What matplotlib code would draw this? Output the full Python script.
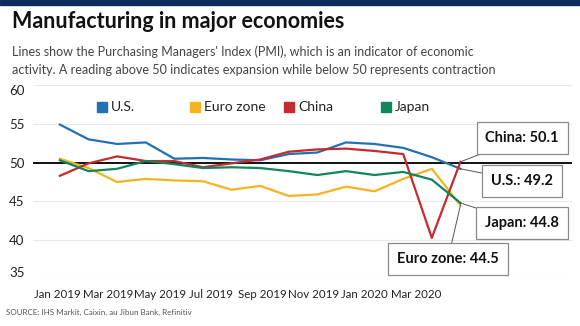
import matplotlib
matplotlib.use('Agg')

import matplotlib.pyplot as plt
import numpy as np

# monthly PMI readings, Jan 2019 .. Mar 2020
months = ['Jan 2019', 'Feb 2019', 'Mar 2019', 'Apr 2019', 'May 2019', 'Jun 2019',
          'Jul 2019', 'Aug 2019', 'Sep 2019', 'Oct 2019', 'Nov 2019', 'Dec 2019',
          'Jan 2020', 'Feb 2020', 'Mar 2020']
us = [54.9, 53.0, 52.4, 52.6, 50.5, 50.6, 50.4, 50.3, 51.1, 51.3, 52.6, 52.4, 51.9, 50.7, 49.2]
euro = [50.5, 49.3, 47.5, 47.9, 47.7, 47.6, 46.5, 47.0, 45.7, 45.9, 46.9, 46.3, 47.9, 49.2, 44.5]
china = [48.3, 49.9, 50.8, 50.2, 50.2, 49.4, 49.9, 50.4, 51.4, 51.7, 51.8, 51.5, 51.1, 40.3, 50.1]
japan = [50.3, 48.9, 49.2, 50.2, 49.8, 49.3, 49.4, 49.3, 48.9, 48.4, 48.9, 48.4, 48.8, 47.8, 44.8]

tick_labels = ['Jan 2019', 'Mar 2019', 'May 2019', 'Jul 2019',
               'Sep 2019', 'Nov 2019', 'Jan 2020', 'Mar 2020']
y_ticks = [35, 40, 45, 50, 55, 60]

series = [
    ('U.S.', us, '#2271b3'),
    ('Euro zone', euro, '#f4b41f'),
    ('China', china, '#c62a2f'),
    ('Japan', japan, '#12855a'),
]

plt.rcParams['font.family'] = ['Lato', 'DejaVu Sans']

W, H = 580, 326
fig = plt.figure(figsize=(W / 100, H / 100), dpi=100)

# navy strip along the top edge
fig.patches.append(plt.Rectangle((0, 1 - 5 / H), 1, 5 / H, transform=fig.transFigure,
                                 color='#0e2a5e', zorder=0))

fig.text(12 / W, 1 - 22 / H, 'Manufacturing in major economies', fontsize=15.5,
         fontweight='bold', color='#111111', va='center', ha='left')
fig.text(12 / W, 1 - 52 / H,
         "Lines show the Purchasing Managers' Index (PMI), which is an indicator of economic",
         fontsize=9, color='#444444', va='center', ha='left')
fig.text(12 / W, 1 - 70 / H,
         'activity. A reading above 50 indicates expansion while below 50 represents contraction',
         fontsize=9.1, color='#444444', va='center', ha='left')
fig.text(6 / W, 1 - 312 / H, 'SOURCE: IHS Markit, Caixin, au Jibun Bank, Refinitiv',
         fontsize=5.8, color='#555555', va='center', ha='left')

ax = fig.add_axes([33 / W, 1 - 279 / H, (572 - 33) / W, (279 - 85) / H])
x = np.arange(len(months))

for name, vals, col in series:
    ax.plot(x, vals, color=col, lw=1.6, label=name, zorder=3)

ax.axhline(50, color='black', lw=1.3, zorder=2)

ax.set_xlim(-0.94, 17.9)
ax.set_ylim(35, 60)
ax.set_yticks(y_ticks)
ax.yaxis.grid(True, color='#e8e8e8', lw=0.8)
ax.set_axisbelow(True)
for s in ax.spines.values():
    s.set_visible(False)
ax.tick_params(axis='both', length=0, colors='#222222')
ax.tick_params(axis='x', pad=7, labelsize=8.3)
ax.tick_params(axis='y', pad=6, labelsize=9.5)
for lab in ax.get_yticklabels():
    if lab.get_text() == '60':
        lab.set_va('top')
    elif lab.get_text() == '35':
        lab.set_va('bottom')

# category labels are spread evenly under the plot
ax.set_xticks(np.linspace(-0.1, 12.45, len(tick_labels)))
ax.set_xticklabels(tick_labels)

# legend with square markers
leg_x = [97, 190, 284, 381]
for (name, vals, col), lx in zip(series, leg_x):
    fig.patches.append(plt.Rectangle((lx / W, 1 - 112 / H), 10 / W, 10 / H,
                                     transform=fig.transFigure, color=col))
    fig.text((lx + 14) / W, 1 - 107 / H, name, fontsize=10, color='#222222',
             va='center', ha='left')

# callouts for the latest reading
callouts = [
    ('China', china, (522, 138)),
    ('U.S.', us, (522, 181)),
    ('Japan', japan, (522, 223)),
    ('Euro zone', euro, (448, 259)),
]
for name, vals, (tx, ty) in callouts:
    ax.annotate('%s: %.1f' % (name, vals[-1]), xy=(x[-1], vals[-1]),
                xytext=(tx, H - ty), textcoords='figure pixels',
                ha='center', va='center', fontsize=10.5, fontweight='bold', color='#111111',
                bbox=dict(boxstyle='square,pad=0.6', fc='white', ec='#8a8a8a', lw=0.9),
                arrowprops=dict(arrowstyle='-', color='#555555', lw=0.7,
                                shrinkA=0, shrinkB=0),
                zorder=5)

fig.savefig('out.png', dpi=100)
